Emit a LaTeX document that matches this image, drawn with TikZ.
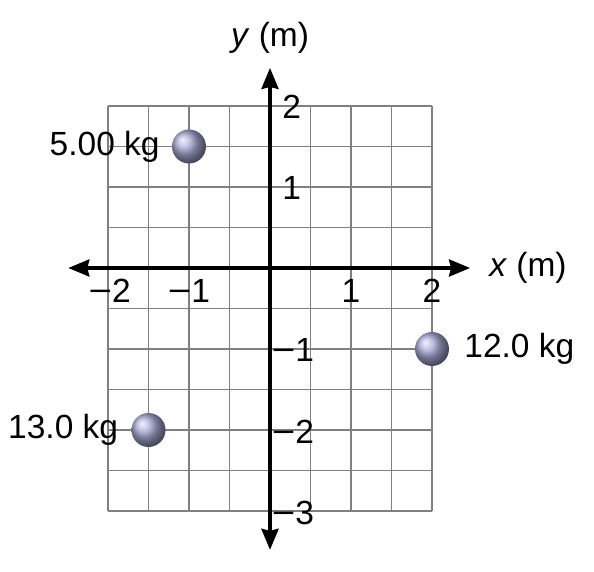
\documentclass[tikz,border=0pt]{standalone}
\usepackage{fontspec}
\usepackage{graphicx}
\setmainfont{Liberation Sans}
\usetikzlibrary{arrows.meta}
\newcommand{\mns}{\scalebox{1.2}[1]{−}}
\begin{document}
\begin{tikzpicture}[x=81pt,y=81pt,
  gridline/.style={draw={rgb,255:red,128;green,128;blue,128},line width=1.6pt},
  axisline/.style={draw=black,line width=3.6pt,-{Stealth[length=21pt,width=17pt,inset=2pt]}},
  lbl/.style={font=\fontsize{33.5}{38}\selectfont,inner sep=0pt},
  mass/.style={circle,minimum size=34pt,inner sep=0pt,shading=ball,ball color={rgb,255:red,170;green,170;blue,215}}]
\useasboundingbox (-3.3333,-3.7531) rectangle (4,3.3086);
\draw[gridline] (-2,-3) grid[step=0.5] (2,2);
\coordinate (xl) at (-2.49,0);
\coordinate (xr) at (2.47,0);
\coordinate (yb) at (0,-3.48);
\coordinate (yt) at (0,2.47);
\draw[axisline] (0,0) -- (xr);
\draw[axisline] (0,0) -- (xl);
\draw[axisline] (0,0) -- (yt);
\draw[axisline] (0,0) -- (yb);
\node[lbl] (xlab) at (3.185,0) {\textit{x} (m)};
\node[lbl] (ylab) at (0,2.84) {\textit{y} (m)};
\node[lbl] (tm2) at (-1.98,-0.28) {\mns2};
\node[lbl] (tm1) at (-1.0,-0.28) {\mns1};
\node[lbl] (tp1) at (1.0,-0.28) {1};
\node[lbl] (tp2) at (2.0,-0.28) {2};
\node[lbl,anchor=west] (yp2) at (0.15,1.99) {2};
\node[lbl,anchor=west] (yp1) at (0.15,0.99) {1};
\node[lbl,anchor=west] (ym1) at (0.02,-1.01) {\mns1};
\node[lbl,anchor=west] (ym2) at (0.02,-2.02) {\mns2};
\node[lbl,anchor=west] (ym3) at (0.02,-3.03) {\mns3};
\node[mass] (m1) at (-1,1.5) {};
\node[mass] (m2) at (2,-1) {};
\node[mass] (m3) at (-1.5,-2) {};
\node[lbl,anchor=east] (l1) at ([xshift=-12pt]m1.west) {5.00 kg};
\node[lbl,anchor=west] (l2) at ([xshift=15pt]m2.east) {12.0 kg};
\node[lbl,anchor=east] (l3) at ([xshift=-13pt]m3.west) {13.0 kg};
\end{tikzpicture}
\end{document}
